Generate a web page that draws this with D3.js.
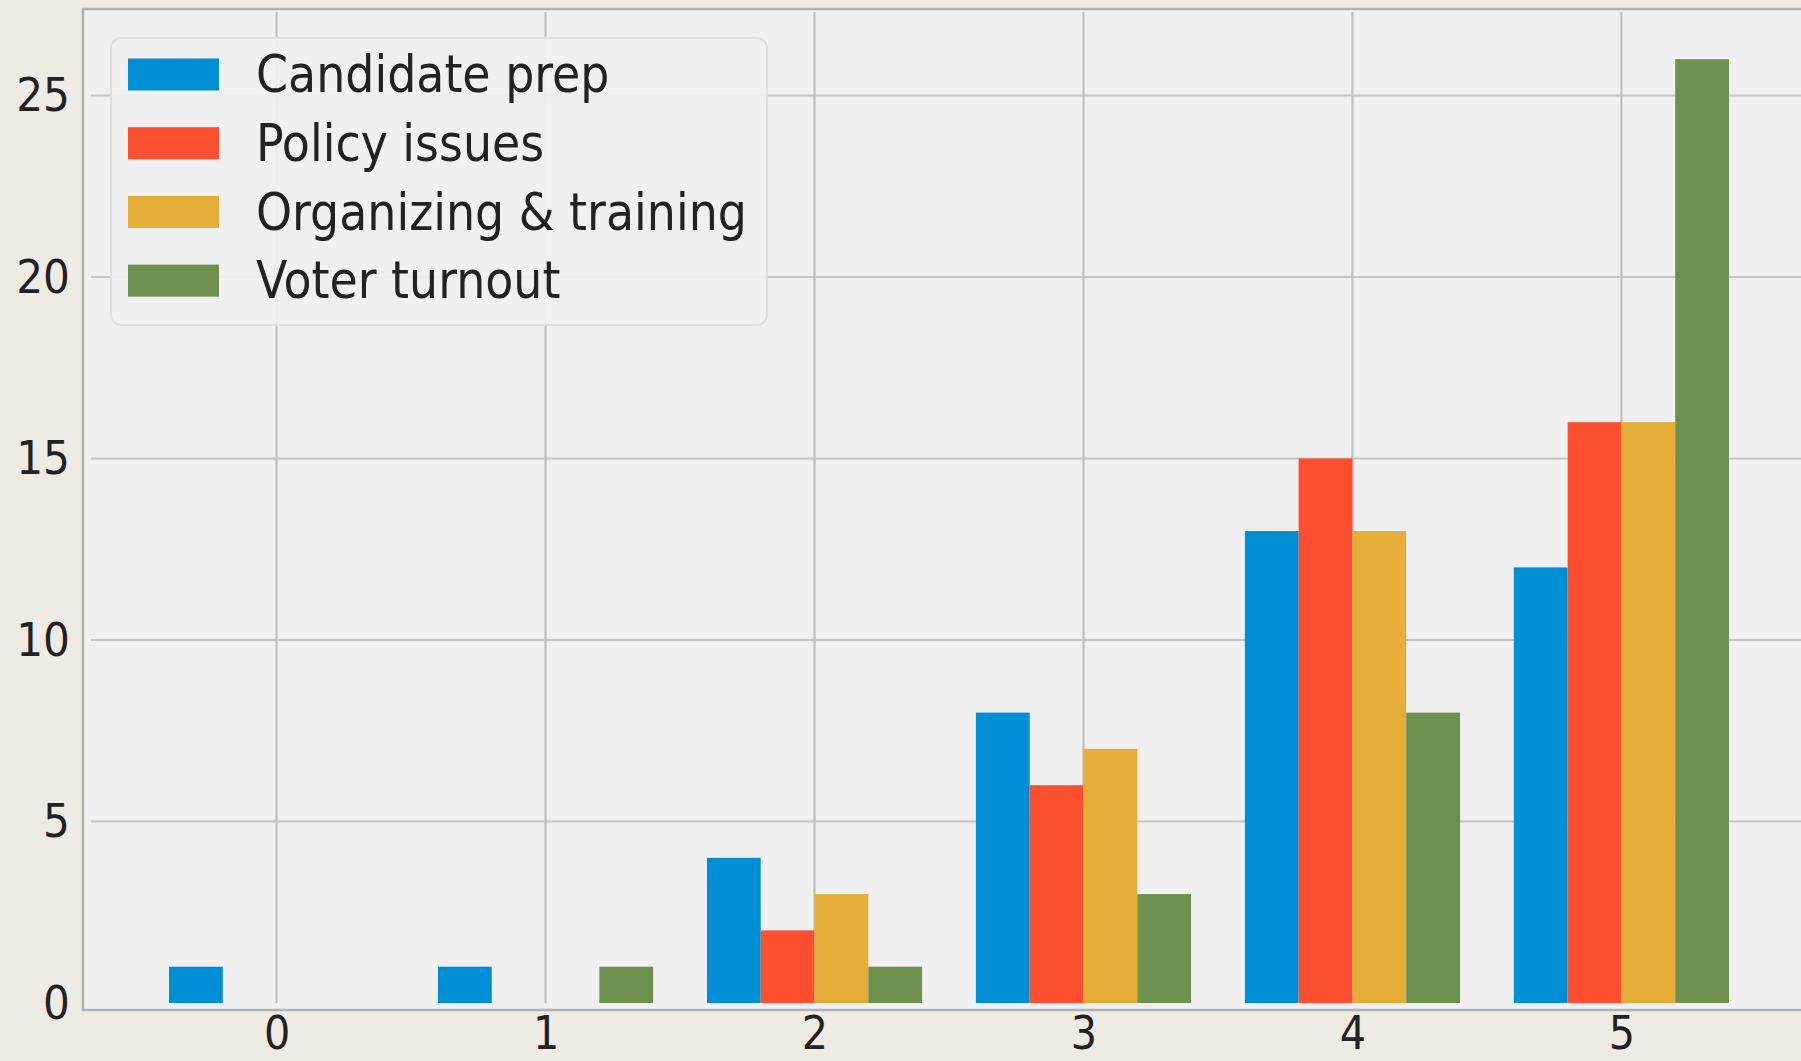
<!DOCTYPE html>
<html>
<head>
<meta charset="utf-8">
<script src="https://cdn.jsdelivr.net/npm/d3@7"></script>
<style>
  html, body { margin: 0; padding: 0; background: #eeebe4; }
  svg { display: block; }
  text { font-family: 'DejaVu Sans Condensed', 'DejaVu Sans', sans-serif; font-stretch: condensed; fill: #222; }
</style>
</head>
<body>
<svg id="chart" width="1801" height="1061"></svg>
<script>
// ---- data ----
const bins = [0, 1, 2, 3, 4, 5];
const seriesNames = ["Candidate prep", "Policy issues", "Organizing & training", "Voter turnout"];
const candidatePrep = [1, 1, 4, 8, 13, 12];
const policyIssues = [0, 0, 2, 6, 15, 16];
const organizingTraining = [0, 0, 3, 7, 13, 16];
const voterTurnout = [0, 1, 1, 3, 8, 26];
const seriesColors = ["#008fd5", "#fc4f30", "#e5ae38", "#6d904f"];
const yTickValues = [0, 5, 10, 15, 20, 25];
const xTickValues = [0, 1, 2, 3, 4, 5];

const seriesValues = [candidatePrep, policyIssues, organizingTraining, voterTurnout];

// ---- layout ----
const frame = { left: 83, top: 9, bottom: 1010, right: 1830 };
const plot = { left: 91, right: 1807, top: 12, bottom: 1003 };

const svg = d3.select("#chart");

const x = d3.scaleLinear().domain([-0.69, 5.69]).range([plot.left, plot.right]);
const y = d3.scaleLinear().domain([0, 27.3]).range([plot.bottom, plot.top]);

// frame / axes background
svg.append("rect")
  .attr("x", frame.left).attr("y", frame.top)
  .attr("width", frame.right - frame.left).attr("height", frame.bottom - frame.top)
  .attr("fill", "#f0f0f0").attr("stroke", "#b2b2b2").attr("stroke-width", 2.5);

// gridlines
const grid = svg.append("g");
grid.selectAll("line.h").data(yTickValues.filter(d => d > 0)).join("line")
  .attr("class", "h")
  .attr("x1", plot.left).attr("x2", plot.right)
  .attr("y1", d => y(d)).attr("y2", d => y(d))
  .attr("stroke", "#c6c6c6").attr("stroke-width", 2.2);
grid.selectAll("line.v").data(xTickValues).join("line")
  .attr("class", "v")
  .attr("x1", d => x(d)).attr("x2", d => x(d))
  .attr("y1", y(27.3)).attr("y2", y(0))
  .attr("stroke", "#c0c0c0").attr("stroke-width", 2.2);

// bars (grouped histogram, rwidth 0.8)
const groupW = 0.8;
const barW = groupW / seriesValues.length;
const barsG = svg.append("g");
seriesValues.forEach((vals, si) => {
  barsG.append("g").attr("fill", seriesColors[si])
    .selectAll("rect").data(vals.map((v, i) => ({ bin: bins[i], v })))
    .join("rect")
    .attr("x", d => x(d.bin - groupW / 2 + si * barW))
    .attr("width", d => x(d.bin - groupW / 2 + (si + 1) * barW) - x(d.bin - groupW / 2 + si * barW))
    .attr("y", d => y(d.v))
    .attr("height", d => y(0) - y(d.v));
});

// axes
const yAxis = d3.axisLeft(y).tickValues(yTickValues).tickSize(0).tickPadding(21).tickFormat(d3.format("d"));
const yG = svg.append("g").attr("transform", `translate(${plot.left},0)`).call(yAxis);
yG.select(".domain").remove();

const xAxis = d3.axisBottom(x).tickValues(xTickValues).tickSize(0).tickPadding(13).tickFormat(d3.format("d"));
const xG = svg.append("g").attr("transform", `translate(0,${plot.bottom})`).call(xAxis);
xG.select(".domain").remove();

svg.selectAll("g[font-family]").attr("font-family", null).attr("font-size", null);
svg.selectAll(".tick text")
  .attr("fill", "#222")
  .attr("font-size", 47)
  .style("font-family", "'DejaVu Sans Condensed','DejaVu Sans',sans-serif")
  .style("font-stretch", "condensed");
xG.selectAll(".tick text").attr("font-size", 46);

// legend
const legend = { x: 111, y: 38, w: 656, h: 287, patchX: 128, patchW: 91, patchH: 32, textX: 256, firstY: 74.5, step: 68.7 };
const lg = svg.append("g");
lg.append("rect")
  .attr("x", legend.x).attr("y", legend.y).attr("width", legend.w).attr("height", legend.h)
  .attr("rx", 10).attr("ry", 10)
  .attr("fill", "#f0f0f0").attr("fill-opacity", 0.9)
  .attr("stroke", "#e0e0e0").attr("stroke-width", 2);
const items = lg.selectAll("g.item").data(seriesNames).join("g")
  .attr("class", "item")
  .attr("transform", (d, i) => `translate(0,${legend.firstY + i * legend.step})`);
items.append("rect")
  .attr("x", legend.patchX).attr("y", -legend.patchH / 2)
  .attr("width", legend.patchW).attr("height", legend.patchH)
  .attr("fill", (d, i) => seriesColors[i]);
items.append("text")
  .attr("x", legend.textX).attr("y", 0).attr("dy", "0.35em")
  .attr("font-size", 51)
  .attr("fill", "#222")
  .text(d => d);
</script>
</body>
</html>
